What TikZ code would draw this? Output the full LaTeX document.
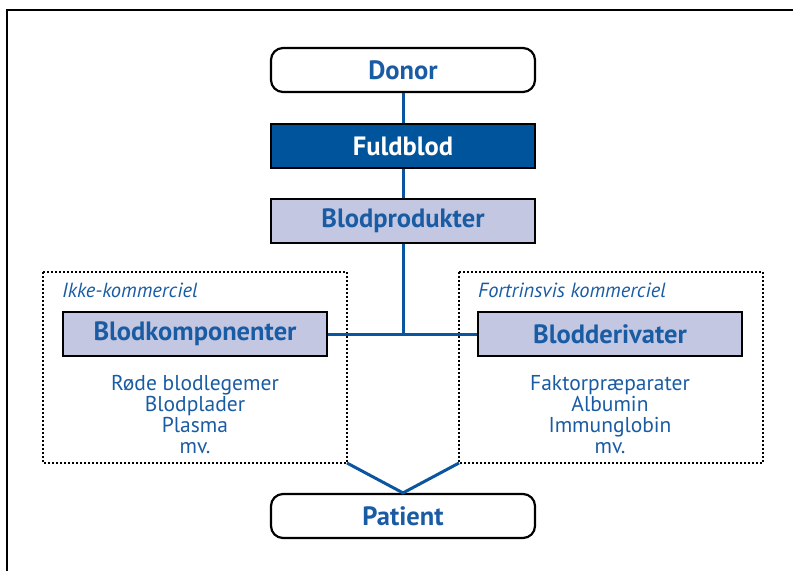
\documentclass[tikz,border=0pt]{standalone}
\usepackage{fontspec}
\setmainfont{PT Sans}
\definecolor{txtblue}{HTML}{1A5CA3}
\definecolor{lineblue}{HTML}{0A55A0}
\definecolor{darkblue}{HTML}{00549C}
\definecolor{lav}{HTML}{C4C7E2}
\begin{document}
\begin{tikzpicture}[x=1pt,y=-1pt,
  box/.style={draw=black,line width=2.2pt,minimum width=264pt,minimum height=44pt,inner sep=0pt,font=\fontsize{26.5}{28}\selectfont\bfseries},
  rbox/.style={box,rounded corners=12pt,fill=white,text=txtblue},
  dbox/.style={box,fill=darkblue,text=white},
  lbox/.style={box,fill=lav,text=txtblue},
  conn/.style={draw=lineblue,line width=3pt},
  group/.style={draw=black,line width=2pt,dash pattern=on 2pt off 2pt},
  tag/.style={anchor=west,inner sep=0pt,text=txtblue,font=\fontsize{20.5}{22}\selectfont\itshape},
  list/.style={align=center,inner sep=0pt,text=txtblue,font=\fontsize{21.5}{21}\selectfont}]
\useasboundingbox (0,0) rectangle (793,571);
\draw[line width=2.5pt] (7,571) -- (7,10) -- (793,10);
% groups
\draw[group] (43,272) rectangle (347,463);
\draw[group] (459,272) rectangle (763,463);
\node[tag] (tl) at (62,290) {Ikke-kommerciel};
\node[tag] (tr) at (478,290) {Fortrinsvis kommerciel};
% nodes
\node[rbox] (donor) at (403,70) {Donor};
\node[dbox] (fuld) at (403,146) {Fuldblod};
\node[lbox] (prod) at (403,221) {Blodprodukter};
\node[lbox] (komp) at (195,334) {Blodkomponenter};
\node[lbox] (deriv) at (610,334) {Blodderivater};
\node[rbox] (patient) at (403,516) {Patient};
\node[list] (ll) at (195,415) {Røde blodlegemer\\Blodplader\\Plasma\\mv.};
\node[list] (rl) at (610,415) {Faktorpræparater\\Albumin\\Immunglobin\\mv.};
\coordinate (j) at (403,334);
\coordinate (gl) at (347,463);
\coordinate (gr) at (459,463);
% connectors
\draw[conn] (donor) -- (fuld);
\draw[conn] (fuld) -- (prod);
\draw[conn] (prod) -- (j);
\draw[conn] (komp) -- (deriv);
\draw[conn] (gl) -- (patient.north) -- (gr);
\end{tikzpicture}
\end{document}
